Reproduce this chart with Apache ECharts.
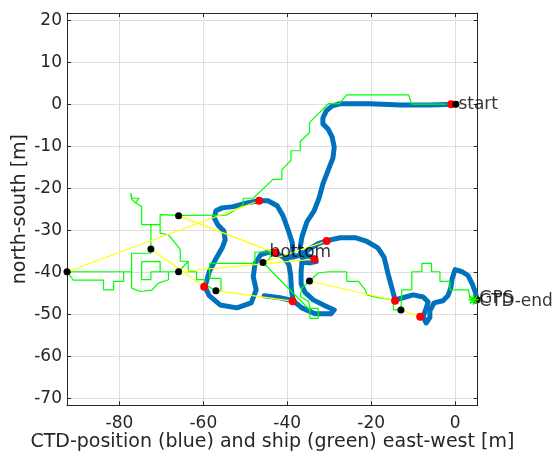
<!DOCTYPE html>
<html>
<head>
<meta charset="utf-8">
<script src="https://cdn.jsdelivr.net/npm/echarts@6/dist/echarts.min.js"></script>
<style>html,body{margin:0;padding:0;background:#fff}#c{width:560px;height:453px}</style>
</head>
<body>
<div id="c"></div>
<script>
// ---- data (metres) ----
const xTicks = [-80, -60, -40, -20, 0];
const yTicks = [-70, -60, -50, -40, -30, -20, -10, 0, 10, 20];
const xRange = [-92.5, 5.4];
const yRange = [-71.7, 21.7];
const xTitle = 'CTD-position (blue) and ship (green) east-west [m]';
const yTitle = 'north-south [m]';

const ctdTrack = [
[0,0],[-6,-0.2],[-13.1,-0.2],[-20.3,0.1],[-25,0.1],[-27.4,0.1],[-29.3,-0.4],[-30.7,-1.6],[-31.5,-3.3],[-31.5,-4.7],[-30.3,-5.9],[-29.3,-7.8],[-28.8,-10.2],[-29.1,-12.8],[-30.3,-15.9],[-31.5,-19.0],[-32.4,-22.3],[-33.6,-25.4],[-35.3,-28.0],[-36.5,-31.6],[-37.0,-34.6],[-36.5,-36.5],
[-35.0,-36.1],[-33.6,-36.8],[-33.1,-37.5],[-34.6,-37.8],[-36.5,-37.5],
[-36.7,-39.9],[-36.7,-42.8],[-35.7,-44.9],[-33.8,-46.6],[-31.0,-48.0],[-28.8,-49.0],[-29.6,-49.9],[-33.4,-49.9],[-36.5,-48.5],[-38.6,-46.8],
[-41.7,-46.1],[-45.5,-45.6],[-41.7,-46.1],[-38.6,-46.8],
[-39.0,-44.2],[-39.2,-40.6],[-39.6,-38.3],[-40.7,-36.6],[-38.6,-36.4],
[-38.8,-33.0],[-39.8,-29.9],[-41.0,-26.6],[-42.4,-24.2],[-44.6,-23.0],[-46.7,-23.0],[-49.6,-23.5],[-52.9,-24.4],[-55.5,-24.7],[-57.0,-25.4],[-57.4,-27.1],[-56.5,-28.8],[-55.1,-30.2],[-54.8,-32.3],[-55.5,-34.2],[-57.0,-36.8],[-58.6,-39.9],[-59.6,-43.5],[-58.6,-45.6],[-56.0,-47.8],[-52.0,-48.5],[-48.6,-47.3],[-47.4,-44.2],[-48.1,-41.1],[-47.7,-38.0],[-46.3,-35.8],[-44.3,-35.2],[-42.9,-35.4],[-41.0,-36.4],[-38.6,-36.4],
[-36.5,-35.8],[-34.6,-34.4],[-32.6,-33.2],[-30.5,-32.5],[-27.4,-31.8],[-23.8,-31.8],[-21.0,-32.7],[-18.4,-34.2],[-16.9,-36.5],[-16.0,-40.3],[-15.0,-44.0],[-14.3,-46.6],[-12.4,-46.1],[-10.0,-45.4],[-7.6,-45.9],[-6.4,-47.1],[-6.9,-48.6],[-7.6,-50.6],[-6.9,-52.1],[-6.0,-50.8],[-6.0,-49.2],[-5.0,-47.3],[-2.9,-46.8],[-1.7,-45.6],[-1.0,-43.7],[-0.7,-41.6],[0,-39.4],[1.7,-39.9],[3.1,-40.8],[4.1,-42.8],[4.8,-44.7],[5.2,-46.2]
];

const shipTrack = [
[0.2,0],[-10.3,0],[-11.1,2.2],[-25.8,2.2],[-27.6,0.1],[-30.2,0.1],[-34.7,-4.4],[-34.7,-6.8],[-36.9,-8.9],[-36.9,-11.1],[-39.1,-11.1],[-39.1,-13.4],[-41.3,-15.6],[-41.3,-17.9],[-43.4,-17.9],[-48.1,-22.4],[-50.5,-22.4],[-50.5,-24.0],
[-54.4,-26.4],[-65.9,-26.5],[-70.3,-26.3],[-70.3,-28.7],[-74.7,-28.7],[-74.7,-24.4],[-76.2,-23.5],[-77.1,-22.6],[-77.3,-21.2],[-77.0,-22.4],[-75.3,-22.4],[-76.2,-23.5],[-74.7,-24.4],[-74.7,-28.7],[-72.5,-28.7],[-72.5,-34.5],[-72.5,-35.5],[-77.1,-35.5],[-77.1,-39.9],[-85.8,-39.9],[-92.5,-39.9],[-91.0,-41.9],[-83.8,-41.9],[-83.8,-44.2],[-81.4,-44.2],[-81.4,-42.2],[-79.0,-42.2],[-79.0,-39.9],[-77.1,-39.9],[-77.1,-43.8],[-75.1,-44.6],[-72.3,-44.3],[-70.7,-42.6],[-68.3,-41.8],[-68.3,-39.9],[-70.3,-39.9],[-70.3,-37.5],[-74.7,-37.5],[-74.7,-41.8],[-72.5,-41.8],[-72.5,-39.9],[-68.3,-39.9],[-65.9,-39.9],[-63.6,-37.4],[-65.5,-37.4],[-65.5,-34.6],[-68.3,-31.1],[-70.3,-30.7],[-70.3,-28.7],[-70.3,-30.7],[-68.3,-31.1],[-65.5,-34.6],[-65.5,-37.4],[-63.6,-37.4],[-63.6,-39.9],[-61.6,-39.9],[-61.6,-41.8],[-59.6,-41.8],[-59.6,-43.0],[-57.0,-44.4],[-55.8,-44.4],[-55.8,-41.5],[-58.5,-41.5],[-58.5,-37.9],[-47.7,-37.9],[-47.7,-35.2],[-44.1,-35.2],[-44.1,-36.8],[-45.8,-37.7],
[-34.6,-49.0],[-34.6,-51.0],[-32.6,-51.0],[-32.6,-48.6],[-34.6,-48.6],[-34.9,-47.0],[-36.9,-45.8],[-36.5,-43.8],[-34.7,-42.1],[-32.6,-40.2],[-30.2,-39.9],[-25.8,-39.9],[-25.8,-42.2],[-23.0,-42.2],[-21.4,-44.2],[-21.0,-45.4],[-18.7,-46.0],[-14.7,-46.6],[-14.7,-49.0],[-12.9,-49.0],[-12.7,-44.2],[-10.3,-44.2],[-10.3,-39.9],[-7.9,-39.9],[-7.9,-37.9],[-5.6,-37.9],[-5.6,-39.9],[-3.6,-39.9],[-3.6,-42.2],[-1.2,-42.2],[-1.2,-44.2],[3.2,-44.2],[3.6,-46.6],[5.2,-46.6]
];

// paired positions at the same times: ship (black) and CTD (red)
const shipDots = [[0.2,0],[-92.5,-39.9],[-65.9,-26.6],[-72.5,-34.5],[-65.9,-39.9],[-57.0,-44.4],[-45.8,-37.7],[-34.7,-42.1],[-12.9,-49.0],[5.2,-46.6]];
const ctdDots  = [[-0.9,0],[-46.7,-23.0],[-42.8,-35.4],[-59.8,-43.5],[-33.5,-36.9],[-38.7,-46.9],[-30.6,-32.6],[-14.3,-46.8],[-8.3,-50.6],[5.0,-46.6]];
const gpsEnd = [[4.4,-46.6]];

const noteNames = ['start', 'bottom', 'CTD-end', 'GPS'];
const notePos = [[0.2,0],[-44.8,-35.4],[5.2,-46.9],[5.2,-46.2]];

// ---- chart ----
const ink = '#262626';
function axisBase(pos, ticks, range, main) {
  return {
    type: 'value', position: pos, min: range[0], max: range[1],
    axisLine: { show: true, onZero: false, lineStyle: { color: ink, width: 1 } },
    axisTick: { show: true, inside: true, length: 4, customValues: ticks, lineStyle: { color: ink } },
    axisLabel: { show: main, customValues: ticks, color: ink, fontSize: 17, fontFamily: 'DejaVu Sans', margin: pos === 'bottom' ? 10 : 5 },
    splitLine: { show: main, lineStyle: { color: '#dfdfdf', width: 1 } }
  };
}
const xMain = Object.assign(axisBase('bottom', xTicks, xRange, true), {
  name: xTitle, nameLocation: 'middle', nameGap: 27, nameMoveOverlap: false,
  nameTextStyle: { color: ink, fontSize: 19, fontFamily: 'DejaVu Sans' }
});
const yMain = Object.assign(axisBase('left', yTicks, yRange, true), {
  name: yTitle, nameLocation: 'middle', nameGap: 37, nameMoveOverlap: false,
  nameTextStyle: { color: ink, fontSize: 19, fontFamily: 'DejaVu Sans' }
});

const series = [];
series.push({ type: 'line', data: ctdTrack, showSymbol: false, symbol: 'none', clip: false,
  lineStyle: { color: '#0072bd', width: 5, cap: 'round', join: 'round' }, z: 2 });
series.push({ type: 'line', data: shipTrack, showSymbol: false, symbol: 'none', clip: false,
  lineStyle: { color: '#00ff00', width: 1.2 }, z: 3 });
for (let i = 0; i < shipDots.length; i++) {
  series.push({ type: 'line', data: [shipDots[i], ctdDots[i]], showSymbol: false, symbol: 'none', clip: false,
    lineStyle: { color: '#ffff00', width: 1.2 }, z: 4 });
}
series.push({ type: 'scatter', data: ctdDots, symbol: 'circle', symbolSize: 8, clip: false,
  itemStyle: { color: '#ff0000', opacity: 1 }, z: 5 });
series.push({ type: 'scatter', data: shipDots, symbol: 'circle', symbolSize: 7, clip: false,
  itemStyle: { color: '#000000', opacity: 1 }, z: 6 });
series.push({ type: 'scatter', data: gpsEnd, clip: false,
  symbol: 'path://M0,-10L0,10M-10,0L10,0M-7,-7L7,7M-7,7L7,-7', symbolSize: 10,
  itemStyle: { color: 'none', borderColor: '#00ff00', borderWidth: 1.5, opacity: 1 }, z: 7 });
series.push({ type: 'scatter', clip: false, symbolSize: 1, itemStyle: { color: 'rgba(0,0,0,0)' },
  data: notePos.map((p, i) => [p[0], p[1], noteNames[i]]),
  label: { show: true, position: 'right', distance: 2, formatter: p => p.data[2],
    color: '#000', fontSize: 17, fontFamily: 'DejaVu Sans' }, z: 8 });

const chart = echarts.init(document.getElementById('c'), null, { renderer: 'canvas' });
chart.setOption({
  animation: false,
  backgroundColor: '#fff',
  grid: { left: 67, right: 82.3, top: 13, bottom: 47.7, outerBoundsMode: 'none' },
  xAxis: [xMain, axisBase('top', xTicks, xRange, false)],
  yAxis: [yMain, axisBase('right', yTicks, yRange, false)],
  series: series
});
</script>
</body>
</html>
